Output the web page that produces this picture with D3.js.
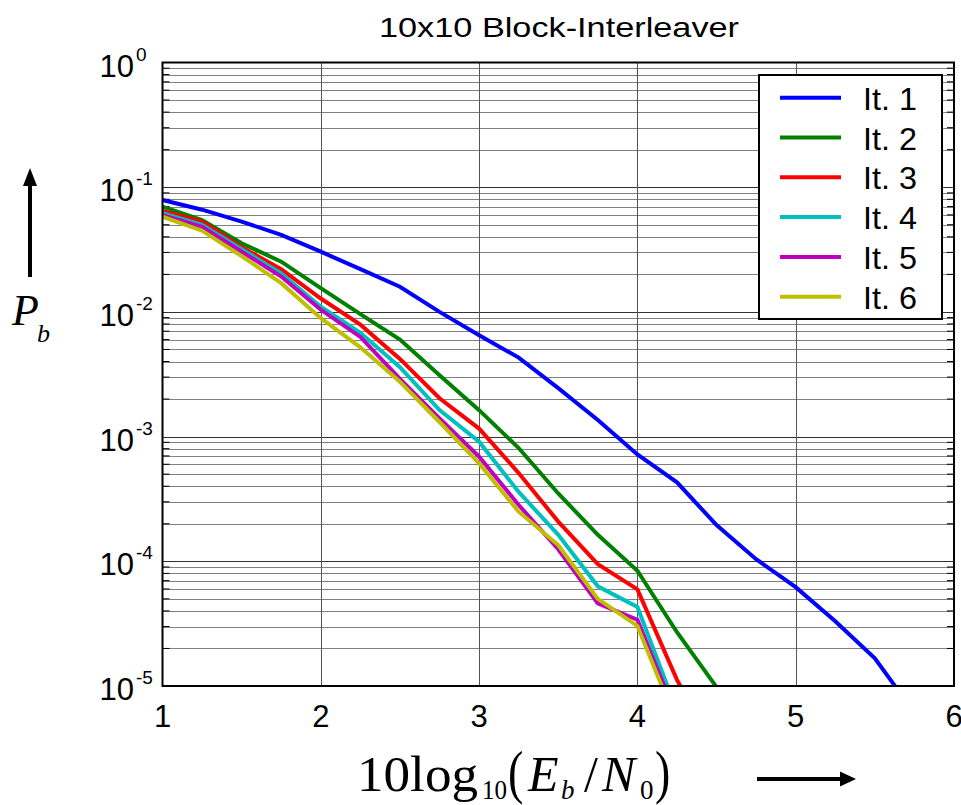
<!DOCTYPE html>
<html>
<head>
<meta charset="utf-8">
<script src="https://cdn.jsdelivr.net/npm/d3@7"></script>
<style>
  body { margin: 0; background: #fff; }
  svg { display: block; }
  text { font-family: Arial, "Liberation Sans", sans-serif; fill: #000; }
  text.serif { font-family: "Liberation Serif", "Times New Roman", serif; }
</style>
</head>
<body>
<svg id="chart" width="961" height="805"></svg>
<script>
// Eb/N0 in dB (shared x values)
var snr = [1, 1.25, 1.5, 1.75, 2, 2.25, 2.5, 2.75, 3, 3.25, 3.5, 3.75, 4, 4.25, 4.5, 4.75, 5, 5.25, 5.5, 5.75];

// bit error rate per iteration
var it1 = [0.079, 0.066, 0.053, 0.0414, 0.0304, 0.022, 0.0159, 0.010, 0.0065, 0.0043, 0.00245, 0.00136, 0.00072, 0.00043, 0.000195, 0.000104, 6.2e-5, 3.3e-5, 1.67e-5, 6.1e-6];
var it2 = [0.0698, 0.0546, 0.0355, 0.0253, 0.0155, 0.0096, 0.006, 0.0031, 0.00163, 0.00081, 0.00035, 0.000163, 8.4e-5, 2.7e-5, 9.8e-6];
var it3 = [0.0645, 0.053, 0.033, 0.022, 0.0128, 0.0079, 0.0042, 0.00203, 0.00116, 0.00051, 0.000208, 9.5e-5, 5.96e-5, 1.12e-5, 3e-6];
var it4 = [0.0618, 0.0498, 0.0318, 0.0204, 0.011, 0.0068, 0.0036, 0.00163, 0.00091, 0.00036, 0.000163, 6.3e-5, 4.3e-5, 6.3e-6];
var it5 = [0.0598, 0.0482, 0.0304, 0.0192, 0.0104, 0.0063, 0.0029, 0.0014, 0.00069, 0.000283, 0.000125, 4.6e-5, 3.4e-5, 5.6e-6];
var it6 = [0.058, 0.0448, 0.028, 0.017, 0.0089, 0.0052, 0.00275, 0.00131, 0.00061, 0.00025, 0.000135, 5.0e-5, 3.03e-5, 5e-6];

var seriesNames = ["It. 1", "It. 2", "It. 3", "It. 4", "It. 5", "It. 6"];
var seriesValues = [it1, it2, it3, it4, it5, it6];
var seriesColors = ["#0000ff", "#008000", "#ff0000", "#00bfbf", "#bf00bf", "#bfbf00"];

var xTicks = [1, 2, 3, 4, 5, 6];
var yDecades = [0, -1, -2, -3, -4, -5];

(function () {
    var pl = 162.5, pr = 954, pt = 62.5, pb = 686;

    var svg = d3.select('#chart');

    var x = d3.scaleLinear().domain([1, 6]).range([pl, pr]);
    var y = d3.scaleLog().domain([1e-5, 1]).range([pb, pt]);

    // minor horizontal grid (2..9 x 10^k)
    var minorVals = [];
    for (var k = -5; k < 0; k++) {
        for (var m = 2; m <= 9; m++) minorVals.push(m * Math.pow(10, k));
    }

    var grid = svg.append('g').attr('class', 'grid');
    grid.selectAll('line.minor').data(minorVals).enter().append('line')
        .attr('class', 'minor')
        .attr('x1', pl).attr('x2', pr)
        .attr('y1', function (d) { return Math.round(y(d)) + 0.5; })
        .attr('y2', function (d) { return Math.round(y(d)) + 0.5; })
        .attr('stroke', '#808080').attr('stroke-width', 1);

    grid.selectAll('line.major').data(yDecades.slice(1, 5)).enter().append('line')
        .attr('class', 'major')
        .attr('x1', pl).attr('x2', pr)
        .attr('y1', function (d) { return Math.round(y(Math.pow(10, d))) + 0.5; })
        .attr('y2', function (d) { return Math.round(y(Math.pow(10, d))) + 0.5; })
        .attr('stroke', '#333').attr('stroke-width', 1);

    grid.selectAll('line.vx').data([2, 3, 4, 5]).enter().append('line')
        .attr('class', 'vx')
        .attr('y1', pt).attr('y2', pb)
        .attr('x1', function (d) { return Math.round(x(d)) + 0.5; })
        .attr('x2', function (d) { return Math.round(x(d)) + 0.5; })
        .attr('stroke', '#555').attr('stroke-width', 1);

    // minor ticks on left/right edges
    var ticks = svg.append('g');
    ticks.selectAll('line.tl').data(minorVals).enter().append('line')
        .attr('x1', pl).attr('x2', pl + 7)
        .attr('y1', function (d) { return y(d); }).attr('y2', function (d) { return y(d); })
        .attr('stroke', '#000').attr('stroke-width', 1);
    ticks.selectAll('line.tr').data(minorVals).enter().append('line')
        .attr('x1', pr - 7).attr('x2', pr)
        .attr('y1', function (d) { return y(d); }).attr('y2', function (d) { return y(d); })
        .attr('stroke', '#000').attr('stroke-width', 1);

    // data lines
    svg.append('clipPath').attr('id', 'plotClip').append('rect')
        .attr('x', pl).attr('y', pt).attr('width', pr - pl).attr('height', pb - pt);

    var line = d3.line()
        .x(function (d, i) { return x(snr[i]); })
        .y(function (d) { return y(d); });

    svg.append('g').attr('clip-path', 'url(#plotClip)')
        .selectAll('path').data(seriesValues).enter().append('path')
        .attr('d', line)
        .attr('fill', 'none')
        .attr('stroke', function (d, i) { return seriesColors[i]; })
        .attr('stroke-width', 4)
        .attr('stroke-linejoin', 'miter');

    // axis box
    svg.append('rect')
        .attr('x', pl).attr('y', pt).attr('width', pr - pl).attr('height', pb - pt)
        .attr('fill', 'none').attr('stroke', '#000').attr('stroke-width', 2);

    // x tick labels
    svg.selectAll('text.xt').data(xTicks).enter().append('text')
        .attr('class', 'xt')
        .attr('x', function (d) { return x(d); })
        .attr('y', 727)
        .attr('text-anchor', 'middle')
        .style('font-size', '31px')
        .text(function (d) { return d; });

    // y tick labels 10^k
    var yt = svg.selectAll('g.yt').data(yDecades).enter().append('g').attr('class', 'yt');
    yt.append('text')
        .attr('x', 134)
        .attr('y', function (d) { return y(Math.pow(10, d)) + 14; })
        .attr('text-anchor', 'end')
        .style('font-size', '31px')
        .text('10');
    yt.append('text')
        .attr('x', 136)
        .attr('y', function (d) { return y(Math.pow(10, d)) - 2; })
        .style('font-size', '19px')
        .text(function (d) { return d === 0 ? '0' : '-' + (-d); });

    // title
    svg.append('text')
        .attr('x', 559).attr('y', 37)
        .attr('text-anchor', 'middle')
        .attr('textLength', 360).attr('lengthAdjust', 'spacingAndGlyphs')
        .style('font-size', '28px')
        .text('10x10 Block-Interleaver');

    // legend
    var legend = svg.append('g');
    legend.append('rect')
        .attr('x', 759).attr('y', 75).attr('width', 183).attr('height', 244)
        .attr('fill', '#fff').attr('stroke', '#000').attr('stroke-width', 2);
    var rows = legend.selectAll('g.row').data(seriesNames).enter().append('g')
        .attr('transform', function (d, i) { return 'translate(0,' + (97.7 + i * 39.8) + ')'; });
    rows.append('line')
        .attr('x1', 780).attr('x2', 841).attr('y1', 0).attr('y2', 0)
        .attr('stroke', function (d, i) { return seriesColors[i]; })
        .attr('stroke-width', 4);
    rows.append('text')
        .attr('x', 863).attr('y', 12)
        .attr('textLength', 54).attr('lengthAdjust', 'spacingAndGlyphs')
        .style('font-size', '31px')
        .text(function (d) { return d; });

    // x label: 10log10(Eb / N0), pieces placed one by one
    var xlBase = 791, xlSub = 799;
    var xlParts = [
        { t: '10log', x: 357, y: xlBase, size: 51, it: false, w: 121 },
        { t: '10', x: 482, y: xlSub, size: 28, it: false, w: 25 },
        { t: 'E', x: 528, y: xlBase, size: 50, it: true, w: 0 },
        { t: 'b', x: 561, y: xlSub, size: 27, it: true, w: 0 },
        { t: '/', x: 584, y: xlBase, size: 50, it: false, w: 0 },
        { t: 'N', x: 602, y: xlBase, size: 50, it: true, w: 0 },
        { t: '0', x: 640, y: xlSub, size: 27, it: false, w: 0 }
    ];
    var xl = svg.selectAll('text.xl').data(xlParts).enter().append('text')
        .attr('class', 'serif xl')
        .attr('x', function (d) { return d.x; })
        .attr('y', function (d) { return d.y; })
        .style('font-size', function (d) { return d.size + 'px'; })
        .style('font-style', function (d) { return d.it ? 'italic' : 'normal'; })
        .text(function (d) { return d.t; });
    xl.filter(function (d) { return d.w > 0; })
        .attr('textLength', function (d) { return d.w; })
        .attr('lengthAdjust', 'spacingAndGlyphs');
    // tall parentheses
    svg.selectAll('text.paren').data([{ t: '(', x: 508 }, { t: ')', x: 655 }]).enter().append('text')
        .attr('class', 'serif paren')
        .attr('transform', function (d) { return 'translate(' + d.x + ',' + 792 + ') scale(1,1.3)'; })
        .style('font-size', '46px')
        .text(function (d) { return d.t; });

    svg.append('line').attr('x1', 757).attr('x2', 842).attr('y1', 779).attr('y2', 779)
        .attr('stroke', '#000').attr('stroke-width', 4);
    svg.append('path').attr('d', 'M840,771.5L856,779L840,786.5Z').attr('fill', '#000');

    // y label: P_b with arrow
    var yl = svg.append('text')
        .attr('class', 'serif')
        .attr('x', 12).attr('y', 325)
        .style('font-style', 'italic')
        .style('font-size', '44px');
    yl.append('tspan').text('P');
    yl.append('tspan').attr('dy', 17).attr('dx', -2).style('font-size', '26px').text('b');

    svg.append('line').attr('x1', 30).attr('x2', 30).attr('y1', 184).attr('y2', 277)
        .attr('stroke', '#000').attr('stroke-width', 4);
    svg.append('path').attr('d', 'M23,186L30,168L37,186Z').attr('fill', '#000');
})();
</script>
</body>
</html>
